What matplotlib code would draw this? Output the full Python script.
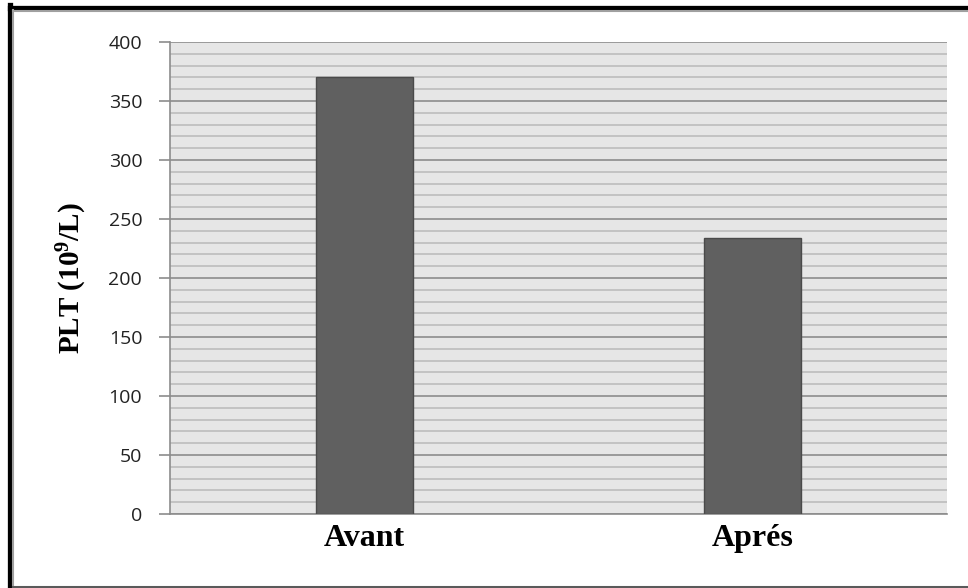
import matplotlib.pyplot as plt
import matplotlib.ticker as tic
from matplotlib.lines import Line2D

categories = ['Avant', 'Aprés']
plt_values = [370, 234]

plt.rcParams['mathtext.fontset'] = 'custom'
plt.rcParams['mathtext.rm'] = 'Liberation Serif:bold'
plt.rcParams['mathtext.it'] = 'Liberation Serif:bold'
plt.rcParams['mathtext.bf'] = 'Liberation Serif:bold'

fig = plt.figure(figsize=(9.68, 5.88), dpi=100)
W, H = 968.0, 588.0

# frame around the chart (left and top thick, bottom thin)
fig.add_artist(Line2D([9.8 / W, 9.8 / W], [0, 1 - 5 / H], color='black', lw=3.8, transform=fig.transFigure))
fig.add_artist(Line2D([9.8 / W, 1], [1 - 7.5 / H, 1 - 7.5 / H], color='black', lw=3.8, transform=fig.transFigure))
fig.add_artist(Line2D([13 / W, 13 / W], [0, 1 - 10 / H], color='#a0a0a0', lw=1.5, transform=fig.transFigure))
fig.add_artist(Line2D([13 / W, 1], [1 - 11 / H, 1 - 11 / H], color='#a0a0a0', lw=1.5, transform=fig.transFigure))
fig.add_artist(Line2D([13 / W, 1], [1.5 / H, 1.5 / H], color='#5a5a5a', lw=2.2, transform=fig.transFigure))

ax = fig.add_axes([170 / W, 1 - 514 / H, (947 - 170) / W, (514 - 42) / H])
ax.set_facecolor('#e6e6e6')

x = range(len(categories))
ax.bar(x, plt_values, width=0.25, color='#606060', edgecolor='#4a4a4a', linewidth=1, zorder=3)

ax.set_xlim(-0.5, 1.5)
ax.set_ylim(0, 400)
ax.yaxis.set_major_locator(tic.MultipleLocator(50))
ax.yaxis.set_minor_locator(tic.MultipleLocator(10))
ax.grid(which='major', axis='y', color='#8c8c8c', lw=1.2, zorder=1)
ax.grid(which='minor', axis='y', color='#bdbdbd', lw=1.2, zorder=1)

for side in ['top', 'right']:
    ax.spines[side].set_visible(False)
ax.spines['left'].set_color('#8c8c8c')
ax.spines['bottom'].set_color('#8c8c8c')
ax.spines['left'].set_linewidth(1.2)
ax.spines['bottom'].set_linewidth(1.2)

ax.tick_params(axis='y', which='major', length=8, color='#8c8c8c', width=1.2, pad=12)
ax.tick_params(axis='y', which='minor', length=0)
ax.tick_params(axis='x', length=0, pad=7)
for lab in ax.get_yticklabels():
    lab.set_fontfamily('Open Sans')
    lab.set_fontsize(14)
    lab.set_color('#222222')

ax.set_xticks(list(x))
ax.set_xticklabels(categories, fontfamily='Liberation Serif', fontweight='bold', fontsize=23)

ax.set_ylabel(r'PLT (10$^{9}$/L)', fontfamily='Liberation Serif', fontweight='bold', fontsize=21, labelpad=14)

fig.savefig('out.png', dpi=100)
